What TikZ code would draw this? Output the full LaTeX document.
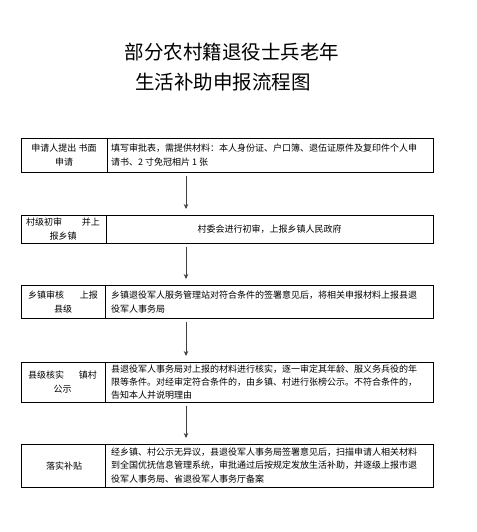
\documentclass[tikz,border=0pt]{standalone}
\usepackage{fontspec}
\setmainfont{Noto Sans CJK SC}
\usetikzlibrary{arrows.meta,calc}
\begin{document}
\begin{tikzpicture}[x=1pt,y=-1pt,
  box/.style={draw=black, line width=0.8pt, fill=white, rectangle, inner sep=0pt, anchor=north west, minimum width=412pt},
  shade/.style={fill=black!45},
  divider/.style={draw=black, line width=0.8pt},
  lefttxt/.style={inner sep=0pt, align=center, font=\fontsize{9}{14}\selectfont},
  righttxt/.style={inner sep=0pt, align=left, anchor=west, font=\fontsize{9}{13.5}\selectfont},
  titletxt/.style={inner sep=0pt, font=\fontsize{19.5}{24}\selectfont},
  arr/.style={-{Stealth[length=5pt,width=4.5pt]}, line width=0.7pt, draw=black!75}]
\useasboundingbox (0,0) rectangle (476,532);

% title
\node[titletxt] (t1) at (232,52) {部分农村籍退役士兵老年};
\node[titletxt] (t2) at (223,82) {生活补助申报流程图};

% box 1
\fill[shade] (22.3,139.3) rectangle (434.3,173.3);
\node[box, minimum height=34pt] (b1) at (21,138) {};
\draw[divider] ($(b1.north west)+(86,0)$) -- ($(b1.south west)+(86,0)$);
\node[lefttxt] (l1) at (64,155) {申请人提出 书面\\申请};
\node[righttxt] (r1) at (111,155) {填写审批表，需提供材料：本人身份证、户口簿、退伍证原件及复印件个人申\\请书、2 寸免冠相片 1 张};

% box 2
\fill[shade] (22.3,216.3) rectangle (434.3,244.3);
\node[box, minimum height=28pt] (b2) at (21,215) {};
\draw[divider] ($(b2.north west)+(85,0)$) -- ($(b2.south west)+(85,0)$);
\node[lefttxt] (l2) at (63,229) {村级初审\hspace{20pt}并上\\报乡镇};
\node[inner sep=0pt, font=\fontsize{9}{13.5}\selectfont] (r2) at (269.5,229) {村委会进行初审，上报乡镇人民政府};

% box 3
\fill[shade] (22.3,286.3) rectangle (434.3,319.3);
\node[box, minimum height=33pt] (b3) at (21,285) {};
\draw[divider] ($(b3.north west)+(84,0)$) -- ($(b3.south west)+(84,0)$);
\node[lefttxt] (l3) at (63,302) {乡镇审核\hspace{16pt}上报\\县级};
\node[righttxt] (r3) at (111,302) {乡镇退役军人服务管理站对符合条件的签署意见后，将相关申报材料上报县退\\役军人事务局};

% box 4
\fill[shade] (22.3,363.3) rectangle (434.3,403.3);
\node[box, minimum height=40pt] (b4) at (21,362) {};
\draw[divider] ($(b4.north west)+(84,0)$) -- ($(b4.south west)+(84,0)$);
\node[lefttxt] (l4) at (62.5,382) {县级核实\hspace{15pt}镇村\\公示};
\node[righttxt, font=\fontsize{9}{13}\selectfont] (r4) at (111,382) {县退役军人事务局对上报的材料进行核实，逐一审定其年龄、服义务兵役的年\\限等条件。对经审定符合条件的，由乡镇、村进行张榜公示。不符合条件的，\\告知本人并说明理由};

% box 5
\fill[shade] (22.3,445.3) rectangle (434.3,488.3);
\node[box, minimum height=43pt] (b5) at (21,444) {};
\draw[divider] ($(b5.north west)+(84,0)$) -- ($(b5.south west)+(84,0)$);
\node[lefttxt] (l5) at (64,466) {落实补贴};
\node[righttxt] (r5) at (111,465.5) {经乡镇、村公示无异议，县退役军人事务局签署意见后，扫描申请人相关材料\\到全国优抚信息管理系统，审批通过后按规定发放生活补助，并逐级上报市退\\役军人事务局、省退役军人事务厅备案};

% arrows
\draw[arr] ($(b1.south west)+(165,3)$) -- ($(b2.north west)+(165,-6)$);
\draw[arr] ($(b2.south west)+(165,3)$) -- ($(b3.north west)+(165,-6)$);
\draw[arr] ($(b3.south west)+(165,3)$) -- ($(b4.north west)+(165,-6)$);
\draw[arr] ($(b4.south west)+(165,3)$) -- ($(b5.north west)+(165,-6)$);
\end{tikzpicture}
\end{document}
